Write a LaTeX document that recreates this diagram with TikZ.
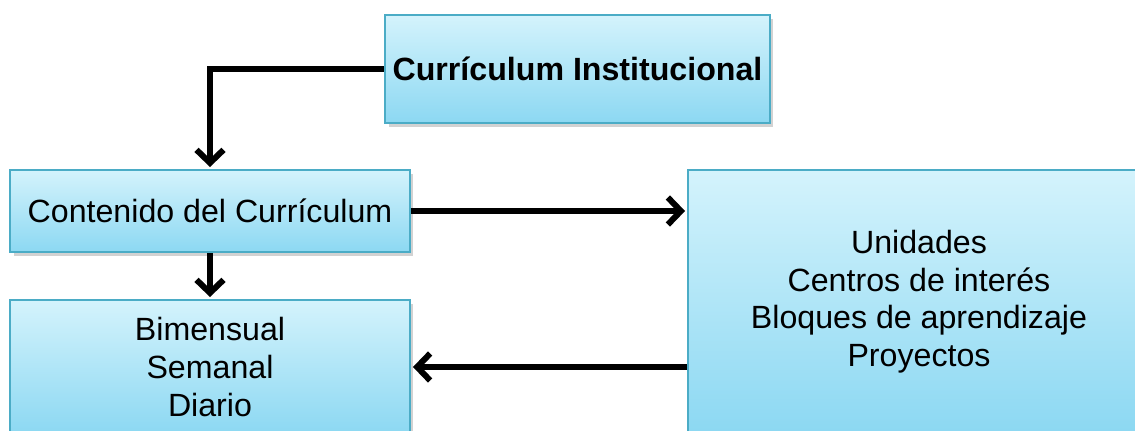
\documentclass[tikz,border=0pt]{standalone}
\usepackage{fontspec}
\setmainfont{Liberation Sans}
\usetikzlibrary{arrows.meta,shadows}
\definecolor{borde}{RGB}{75,172,198}
\definecolor{cielo}{RGB}{212,243,252}
\definecolor{azul}{RGB}{140,216,242}

\begin{document}
\begin{tikzpicture}[x=0.02cm, y=-0.02cm,
	caja/.style={draw=borde, line width=0.5mm, top color=cielo, bottom color=azul, align=center, inner sep=0pt, font=\fontsize{18.3}{21.4}\selectfont, drop shadow={shadow xshift=2pt, shadow yshift=-2pt, opacity=0.35}},
	flecha/.style={black, line width=1.2mm, -{Straight Barb[length=2.6mm, width=5.4mm, line width=1.2mm]}, shorten >=1pt}]
\useasboundingbox (0,0) rectangle (1135,430);
\clip (0,0) rectangle (1135,430);
\fill[white] (0,0) rectangle (1135,430);
\node[caja, minimum width=7.7cm, minimum height=2.16cm](inst) at (577.5,69) {\textbf{Currículum Institucional}};
\node[caja, minimum width=8cm, minimum height=1.64cm](cont) at (210,211) {Contenido del Currículum};
\node[caja, minimum width=8cm, minimum height=2.68cm](plan) at (210,367) {Bimensual\\Semanal\\Diario};
\node[caja, minimum width=9.24cm, minimum height=5.26cm](unid) at (919,301.5) {Unidades\\Centros de interés\\Bloques de aprendizaje\\Proyectos};
\draw[flecha](inst.west) -| (cont.north);
\draw[flecha](cont.east) -- (unid.west |- cont.east);
\draw[flecha](cont.south) -- (plan.north);
\draw[flecha](unid.west |- plan.east) -- (plan.east);
\end{tikzpicture}
\end{document}
